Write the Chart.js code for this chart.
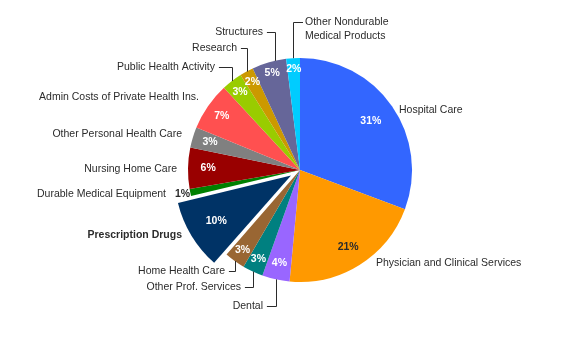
<!DOCTYPE html>
<html>
<head>
<meta charset="utf-8">
<script src="https://cdn.jsdelivr.net/npm/chart.js@4.4.0/dist/chart.umd.min.js"></script>
<style>
  html, body { margin: 0; padding: 0; background: #fff; }
  #wrap { width: 571px; height: 353px; }
</style>
</head>
<body>
<div id="wrap"><canvas id="pie"></canvas></div>
<script>
// === DATA ===
const categories = [
  'Hospital Care', 'Physician and Clinical Services', 'Dental', 'Other Prof. Services',
  'Home Health Care', 'Prescription Drugs', 'Durable Medical Equipment', 'Nursing Home Care',
  'Other Personal Health Care', 'Admin Costs of Private Health Ins.', 'Public Health Activity',
  'Research', 'Structures', 'Other Nondurable Medical Products'
];
const shares = [31, 21, 4, 3, 3, 10, 1, 6, 3, 7, 3, 2, 5, 2];
const pctText = shares.map(v => v + '%');

// === STYLE ===
const sliceColors = [
  '#3366ff', '#ff9900', '#9966ff', '#008080', '#996633', '#003366', '#008000',
  '#990000', '#808080', '#ff5050', '#99cc00', '#cc9900', '#666699', '#00ccff'
];
const EXPLODED = 5;            // Prescription Drugs
const FONT = '"Liberation Sans", Arial, sans-serif';
const TEXT_COLOR = '#2b2b2b';

// where the outside names sit (x,y = text anchor, vertically centred)
const nameLayout = [
  { x: 399, y: 110, align: 'left' },
  { x: 376, y: 263, align: 'left' },
  { x: 263, y: 306, align: 'right', leader: true },
  { x: 241, y: 287, align: 'right', leader: true },
  { x: 225, y: 271, align: 'right', leader: true },
  { x: 182, y: 235, align: 'right', bold: true },
  { x: 166, y: 194, align: 'right' },
  { x: 177, y: 169, align: 'right' },
  { x: 182, y: 134, align: 'right' },
  { x: 199, y: 97,  align: 'right' },
  { x: 215, y: 67,  align: 'right', leader: true },
  { x: 237, y: 48,  align: 'right', leader: true },
  { x: 263, y: 32,  align: 'right', leader: true, shift: 6 },
  { x: 305, y: 22,  align: 'left', leader: true, lines: ['Other Nondurable', 'Medical Products'] }
];
// percent label distance as a fraction of the radius
const pctRadius = [0.77, 0.81, 0.85, 0.88, 0.88, 0.78, 1.07, 0.82, 0.84, 0.85, 0.88, 0.89, 0.9, 0.9];
const pctDark = [6, 1];  // indexes drawn in dark text

// === LABEL PLUGIN ===
const pieLabels = {
  id: 'pieLabels',
  afterDatasetsDraw(chart) {
    const ctx = chart.ctx;
    const meta = chart.getDatasetMeta(0);
    ctx.save();
    meta.data.forEach((el, i) => {
      const p = el.getProps(['x', 'y', 'startAngle', 'endAngle', 'outerRadius']);
      const a = (p.startAngle + p.endAngle) / 2;
      const off = (el.options.offset || 0) / 4;
      const cx = p.x + Math.cos(a) * off;
      const cy = p.y + Math.sin(a) * off;
      const R = p.outerRadius;

      // percent
      const rr = R * pctRadius[i];
      ctx.font = 'bold 10.5px ' + FONT;
      ctx.textAlign = 'center';
      ctx.textBaseline = 'middle';
      ctx.fillStyle = pctDark.includes(i) ? TEXT_COLOR : '#ffffff';
      ctx.fillText(pctText[i], cx + Math.cos(a) * rr, cy + Math.sin(a) * rr);

      // name
      const lay = nameLayout[i];
      ctx.font = (lay.bold ? 'bold ' : '') + '10.5px ' + FONT;
      ctx.textAlign = lay.align;
      ctx.fillStyle = TEXT_COLOR;
      const lines = lay.lines || [categories[i]];
      lines.forEach((t, k) => ctx.fillText(t, lay.x, lay.y + k * 14));

      if (lay.leader) {
        let px = cx + Math.cos(a) * R + (lay.shift || 0);
        const dy = Math.sqrt(Math.max(R * R - (px - cx) * (px - cx), 0));
        const py = cy + (Math.sin(a) < 0 ? -dy : dy);
        px = Math.round(px) + 0.5;
        const ly = Math.round(lay.y) + 0.5;
        const sx = lay.align === 'right'
          ? lay.x + ctx.measureText(' ').width + 1
          : lay.x - 2;
        ctx.strokeStyle = TEXT_COLOR;
        ctx.lineWidth = 1;
        ctx.beginPath();
        ctx.moveTo(sx, ly);
        ctx.lineTo(px, ly);
        ctx.lineTo(px, py);
        ctx.stroke();
      }
    });
    ctx.restore();
  }
};

// === CHART ===
new Chart(document.getElementById('pie'), {
  type: 'pie',
  data: {
    labels: categories,
    datasets: [{
      data: shares,
      backgroundColor: sliceColors,
      borderWidth: 0,
      radius: 112,
      offset: shares.map((_, i) => i === EXPLODED ? 42 : 0)
    }]
  },
  options: {
    responsive: true,
    maintainAspectRatio: false,
    animation: false,
    layout: { padding: { left: 39, right: 10, top: 10, bottom: 23 } },
    plugins: {
      legend: { display: false },
      tooltip: { enabled: false }
    }
  },
  plugins: [pieLabels]
});
</script>
</body>
</html>
